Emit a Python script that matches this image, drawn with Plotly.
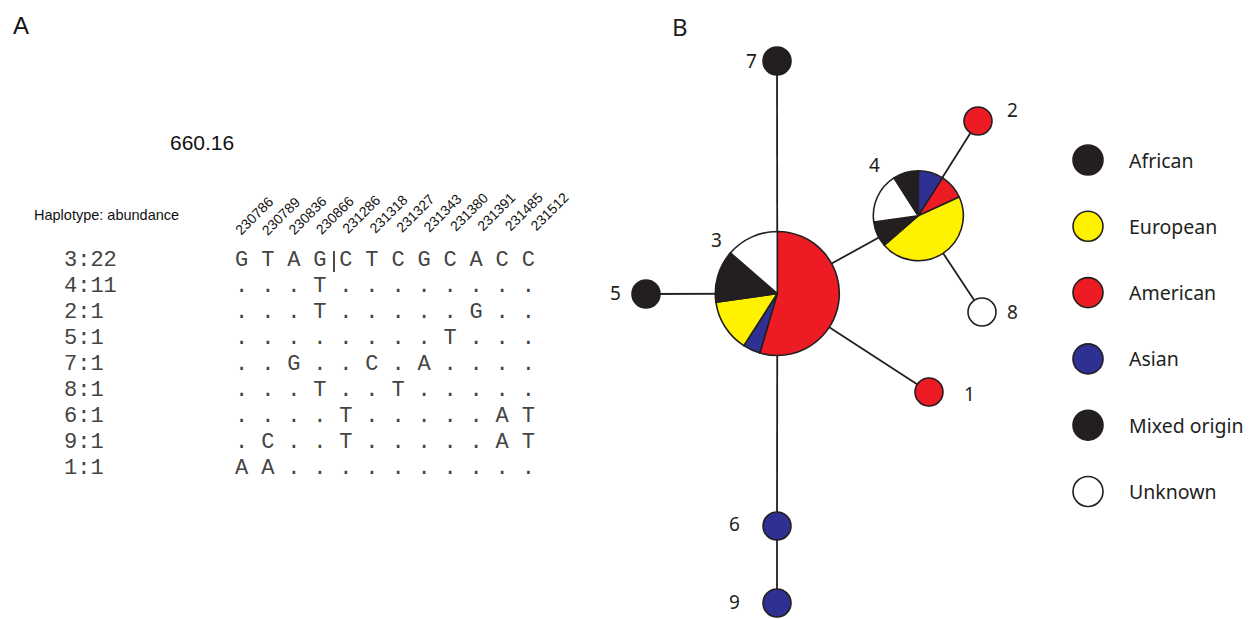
import plotly.graph_objects as go

W, H = 1257, 619
OFF = 8                      # page body margin of the browser
FW, FH = W - OFF, H - OFF    # figure size so that its right/bottom edges meet the window

# ---------------- Panel A data ----------------
locus = "660.16"
snp_positions = ["230786", "230789", "230836", "230866", "231286", "231318",
                 "231327", "231343", "231380", "231391", "231485", "231512"]
haplotypes = ["3", "4", "2", "5", "7", "8", "6", "9", "1"]
abundances = [22, 11, 1, 1, 1, 1, 1, 1, 1]
sequences = ["GTAGCTCGCACC",
             "...T........",
             "...T.....G..",
             "........T...",
             "..G..C.A....",
             "...T..T.....",
             "....T.....AT",
             ".C..T.....AT",
             "AA.........."]

# ---------------- Panel B data ----------------
origins = ["African", "European", "American", "Asian", "Mixed origin", "Unknown"]
origin_colors = ["#231F20", "#FFF200", "#ED1C24", "#2E3192", "#231F20", "#FFFFFF"]
color_of = dict(zip(origins, origin_colors))

pie3_labels = ["American", "Asian", "European", "African", "Unknown"]
pie3_values = [12, 1, 3, 3, 3]
pie4_labels = ["Asian", "American", "European", "African", "Unknown", "Mixed origin"]
pie4_values = [1, 1, 5, 1, 2, 1]

# network layout (haplotype id -> position in the drawing)
node_ids = ["7", "2", "5", "8", "1", "6", "9"]
node_origin = ["African", "American", "African", "Unknown", "American", "Asian", "Asian"]
node_x = [777, 978, 646, 982, 929, 777, 777]
node_y = [61, 121, 294, 312, 392, 526, 603]
pie_ids = ["3", "4"]
pie_x = [777.3, 918.3]
pie_y = [293.5, 215.7]
pie_r = [62, 45]
edges = [("7", "3"), ("3", "6"), ("6", "9"), ("3", "5"), ("3", "1"),
         ("3", "4"), ("4", "2"), ("4", "8")]
label_ids = ["7", "2", "4", "3", "5", "8", "1", "6", "9"]
label_x = [751, 1012, 874, 716, 615, 1012, 969, 734, 734]
label_y = [61, 110, 165, 240, 293, 312, 394, 524, 602]

INK = "#231F20"
fig = go.Figure()

# ---------- Panel A ----------
col_x = [241.7 + 26.05 * j for j in range(len(snp_positions))]
row_y = [260 + 26.1 * i for i in range(len(haplotypes))]

gx, gy, gt = [], [], []
for i, seq in enumerate(sequences):
    for j, ch in enumerate(seq):
        gx.append(col_x[j]); gy.append(row_y[i]); gt.append(ch)
fig.add_trace(go.Scatter(x=gx, y=gy, text=gt, mode="text", textposition="middle center",
                         textfont=dict(family="Liberation Mono", size=22, color="#444444"),
                         hoverinfo="skip", showlegend=False))

# separator bar in the reference row
fig.add_trace(go.Scatter(x=[334, 334], y=[251, 272], mode="lines",
                         line=dict(color=INK, width=1.6), hoverinfo="skip", showlegend=False))

annotations = []
for i, (h, a) in enumerate(zip(haplotypes, abundances)):
    annotations.append(dict(x=62, y=row_y[i], xref="x", yref="y", text=f"{h}:{a}",
                            showarrow=False, xanchor="left", yanchor="middle",
                            font=dict(family="Liberation Mono", size=22, color="#444444")))
for j, p in enumerate(snp_positions):
    annotations.append(dict(x=254 + 26.9 * j, y=216 - 0.45 * j, xref="x", yref="y", text=p,
                            showarrow=False, textangle=-45, xanchor="center", yanchor="middle",
                            font=dict(family="Liberation Sans", size=14, color="#111111")))
annotations.append(dict(x=32, y=215, xref="x", yref="y", text="Haplotype: abundance",
                        showarrow=False, xanchor="left", yanchor="middle",
                        font=dict(family="Liberation Sans", size=14.5, color="#111111")))
annotations.append(dict(x=202, y=142, xref="x", yref="y", text=locus,
                        showarrow=False, xanchor="center", yanchor="middle",
                        font=dict(family="Liberation Sans", size=21, color="#111111")))
annotations.append(dict(x=11, y=25, xref="x", yref="y", text="A",
                        showarrow=False, xanchor="left", yanchor="middle",
                        font=dict(family="Liberation Sans", size=24, color="#111111")))
annotations.append(dict(x=670, y=26, xref="x", yref="y", text="B",
                        showarrow=False, xanchor="left", yanchor="middle",
                        font=dict(family="Noto Sans", size=24, color=INK)))

# ---------- Panel B ----------
pos = {}
for n, x, y in zip(node_ids, node_x, node_y):
    pos[n] = (x, y)
for n, x, y in zip(pie_ids, pie_x, pie_y):
    pos[n] = (x, y)

ex, ey = [], []
for a, b in edges:
    ex += [pos[a][0], pos[b][0], None]
    ey += [pos[a][1], pos[b][1], None]
fig.add_trace(go.Scatter(x=ex, y=ey, mode="lines", line=dict(color=INK, width=1.8),
                         hoverinfo="skip", showlegend=False))

fig.add_trace(go.Scatter(x=node_x, y=node_y, mode="markers",
                         marker=dict(size=28, color=[color_of[o] for o in node_origin],
                                     line=dict(color=INK, width=1.6)),
                         text=node_ids, hoverinfo="text", showlegend=False))

for n, x, y in zip(label_ids, label_x, label_y):
    annotations.append(dict(x=x, y=y, xref="x", yref="y", text=n, showarrow=False,
                            xanchor="center", yanchor="middle",
                            font=dict(family="Noto Sans", size=19, color=INK)))

# pies (domain in paper units of the figure, which starts OFF px into the page)
for labels, values, cx, cy, r in [(pie3_labels, pie3_values, pie_x[0], pie_y[0], pie_r[0]),
                                  (pie4_labels, pie4_values, pie_x[1], pie_y[1], pie_r[1])]:
    fig.add_trace(go.Pie(labels=[f"{l} " * (k + 1) for k, l in enumerate(labels)],
                         values=values, sort=False, direction="clockwise", rotation=0,
                         marker=dict(colors=[color_of[l] for l in labels],
                                     line=dict(color=INK, width=1.6)),
                         textinfo="none", hoverinfo="label+value", showlegend=False,
                         domain=dict(x=[(cx - r - OFF) / FW, (cx + r - OFF) / FW],
                                     y=[1 - (cy + r - OFF) / FH, 1 - (cy - r - OFF) / FH])))

# legend
leg_y = [160 + 66.3 * i for i in range(len(origins))]
fig.add_trace(go.Scatter(x=[1088] * len(origins), y=leg_y, mode="markers",
                         marker=dict(size=30, color=origin_colors, line=dict(color=INK, width=1.6)),
                         text=origins, hoverinfo="text", showlegend=False))
for o, y in zip(origins, leg_y):
    annotations.append(dict(x=1127, y=y, xref="x", yref="y", text=o, showarrow=False,
                            xanchor="left", yanchor="middle",
                            font=dict(family="Noto Sans", size=19.5, color=INK)))

fig.update_layout(
    width=FW, height=FH, margin=dict(l=0, r=0, t=0, b=0),
    paper_bgcolor="white", plot_bgcolor="white",
    xaxis=dict(range=[OFF, W], visible=False, fixedrange=True),
    yaxis=dict(range=[H, OFF], visible=False, fixedrange=True),
    annotations=annotations,
)
fig.write_html("out.html")
